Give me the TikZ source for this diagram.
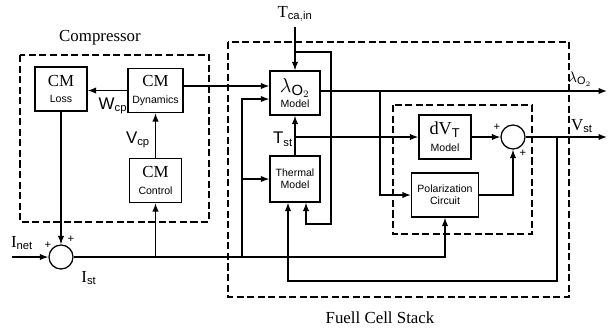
\documentclass[tikz,border=0pt]{standalone}
\usepackage{fontspec}
\setmainfont{Liberation Serif}
\setsansfont{Liberation Sans}
\usetikzlibrary{arrows.meta}

\newcommand{\smtxt}{\sffamily\fontsize{7.5}{8.5}\selectfont}
\newcommand{\sig}[2]{$\mathrm{#1}_{\mathsf{#2}}$}
\newcommand{\sigsf}[2]{$\mathsf{#1}_{\mathsf{#2}}$}

\tikzset{
  blk/.style={draw, align=center, inner sep=1pt, minimum width=1.3cm, minimum height=1.1cm},
  sumnode/.style={draw, circle, minimum size=0.6cm, inner sep=0pt},
  grp/.style={draw, dash pattern=on 5pt off 2.5pt, line width=0.8pt},
  sgn/.style={font=\sffamily\fontsize{8}{8}\selectfont, inner sep=0pt},
}

\begin{document}
\begin{tikzpicture}[x=0.025cm, y=-0.025cm, line width=0.9pt,
    >={Latex[length=6pt,width=4.5pt]},
    every node/.style={font=\fontsize{12}{13}\selectfont}]
  \useasboundingbox (0,0) rectangle (608,331);

  % dashed groups
  \draw[grp] (20,55) rectangle (209,222);
  \node (comp) at (100,38) {Compressor};
  \draw[grp] (228,42) rectangle (569,297);
  \node (fcs) at (380,318) {Fuell Cell Stack};
  \draw[grp] (393,105) rectangle (532,234);

  % blocks
  \node[blk] (loss) at (61,89) {CM\\[-1pt]{\smtxt Loss}};
  \node[blk, minimum width=1.375cm] (dyn) at (155.5,90.5) {CM\\[-1pt]{\smtxt Dynamics}};
  \node[blk] (ctrl) at (155.5,180.5) {CM\\[-1pt]{\smtxt Control}};
  \node[blk, minimum width=1.25cm] (lam) at (295,93)
    {{\fontsize{15}{15}\selectfont$\lambda_{\mathsf{O}_2}$}\\[-2pt]{\smtxt Model}};
  \node[blk, font=\smtxt, minimum width=1.25cm, minimum height=1.15cm] (therm) at (295,179) {Thermal\\Model};
  \node[blk] (dvt) at (445,137) {{\fontsize{13}{14}\selectfont$\mathrm{dV}_{\mathsf{T}}$}\\[-1pt]{\smtxt Model}};
  \node[blk, font=\smtxt, minimum width=1.675cm] (pol) at (445,195) {Polarization\\Circuit};

  \node[sumnode] (sumA) at (61,257) {};
  \node[sumnode] (sumB) at (513,137) {};

  % inputs and outputs
  \coordinate (inet) at (12,257);
  \node (tca) at (295,14) {\sig{T}{ca,in}};
  \coordinate (lamout) at (607,91);
  \coordinate (vstout) at (607,137);
  \coordinate (b1) at (242,257);
  \coordinate (b2) at (380,91);
  \coordinate (b3) at (557,137);

  % compressor
  \draw[->] (dyn.west) -- (loss.east |- dyn.west);
  \draw[->] (ctrl) -- (dyn);
  \draw[->] (loss) -- (sumA);
  \draw[->] (inet) -- (sumA);
  \draw[->] (sumA) -| (pol);
  \draw[->] (ctrl.south |- sumA) -- (ctrl);

  % stack
  \draw[->] (b1) |- (lam.west |- 0,99);
  \draw[->] (b1 |- therm.west) -- (therm.west);
  \draw[->] (dyn.east |- 0,86) -- (lam.west |- 0,86);
  \draw[->] (tca) -- (lam);
  \draw[->] (lam.north |- 0,52) -| (331,224) -| (therm.south -| 306,0);
  \draw[->] (therm) -- (lam);
  \draw[->] (therm.north |- dvt.west) -- (dvt.west);
  \draw[->] (lam.east |- lamout) -- (lamout);
  \draw[->] (b2) |- (pol.west);
  \draw[->] (dvt) -- (sumB);
  \draw[->] (pol) -| (sumB);
  \draw[->] (sumB) -- (vstout);
  \draw[->] (b3) |- (288,281) -- (therm.south -| 288,0);

  % labels
  \node (inetl) at (22,243) {\sig{I}{net}};
  \node (istl) at (89,278) {\sig{I}{st}};
  \node (wcpl) at (113,106) {\sigsf{W}{cp}};
  \node (vcpl) at (138,140) {\sigsf{V}{cp}};
  \node (tstl) at (283,139) {\sigsf{T}{st}};
  \node[font=\fontsize{11}{12}\selectfont] (laml) at (580,79) {$\lambda_{\mathsf{O}_2}$};
  \node (vstl) at (582,126) {\sig{V}{st}};
  \node[sgn] (s1) at (48,245) {+};
  \node[sgn] (s2) at (71,239) {+};
  \node[sgn] (s3) at (497,127) {+};
  \node[sgn] (s4) at (523,153) {+};
\end{tikzpicture}
\end{document}
